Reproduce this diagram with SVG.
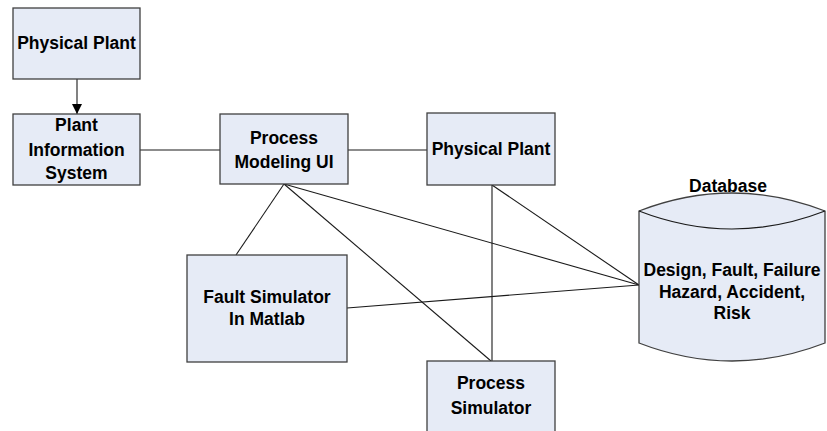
<svg xmlns="http://www.w3.org/2000/svg" width="827" height="431" viewBox="0 0 827 431">
<defs>
<style>
.box{fill:#e6ebf6;stroke:#404040;stroke-width:1.3}
.ln{stroke:#1a1a1a;stroke-width:1.1;fill:none}
.t{font-family:"Liberation Sans",Arial,sans-serif;font-weight:bold;font-size:17.5px;fill:#000;text-anchor:middle}
</style>
<marker id="arr" viewBox="0 0 10 10" refX="10" refY="5" markerWidth="10" markerHeight="10" markerUnits="userSpaceOnUse" orient="auto">
<path d="M0,0 L10,5 L0,10 z" fill="#000"/>
</marker>
</defs>
<rect width="827" height="431" fill="#fff"/>
<g id="connectors">
<line class="ln" x1="77" y1="79" x2="77" y2="114" marker-end="url(#arr)"/>
<line class="ln" x1="140" y1="150" x2="220" y2="150"/>
<line class="ln" x1="348" y1="150" x2="427" y2="150"/>
<line class="ln" x1="284" y1="184" x2="236" y2="255"/>
<line class="ln" x1="284" y1="184" x2="491" y2="361"/>
<line class="ln" x1="284" y1="184" x2="639" y2="285"/>
<line class="ln" x1="492" y1="185" x2="492" y2="361"/>
<line class="ln" x1="492" y1="185" x2="639" y2="285"/>
<line class="ln" x1="347" y1="308" x2="639" y2="285"/>
</g>
<g id="physical-plant-top">
<rect class="box" x="13" y="8" width="127" height="71"/>
<text class="t" x="76.5" y="49">Physical Plant</text>
</g>
<g id="plant-information-system">
<rect class="box" x="13" y="114" width="127" height="71"/>
<text class="t" x="76.5" y="131">Plant</text>
<text class="t" x="76.5" y="156">Information</text>
<text class="t" x="76.5" y="179">System</text>
</g>
<g id="process-modeling-ui">
<rect class="box" x="220" y="114" width="128" height="70"/>
<text class="t" x="284" y="144">Process</text>
<text class="t" x="284" y="168">Modeling UI</text>
</g>
<g id="physical-plant-right">
<rect class="box" x="427" y="113" width="128" height="72"/>
<text class="t" x="491" y="155">Physical Plant</text>
</g>
<g id="fault-simulator">
<rect class="box" x="187" y="255" width="160" height="107"/>
<text class="t" x="267" y="303">Fault Simulator</text>
<text class="t" x="267" y="325">In Matlab</text>
</g>
<g id="process-simulator">
<rect class="box" x="427" y="361" width="128" height="80"/>
<text class="t" x="491" y="389">Process</text>
<text class="t" x="491" y="414">Simulator</text>
</g>
<g id="database">
<text class="t" x="728" y="192">Database</text>
<path class="box" d="M639,211 Q732,175 825,211 L825,343 Q732,379 639,343 Z"/>
<path class="ln" d="M639,211 Q732,247 825,211" stroke="#404040"/>
<text class="t" x="732" y="276">Design, Fault, Failure</text>
<text class="t" x="732" y="298">Hazard, Accident,</text>
<text class="t" x="732" y="319">Risk</text>
</g>
</svg>
